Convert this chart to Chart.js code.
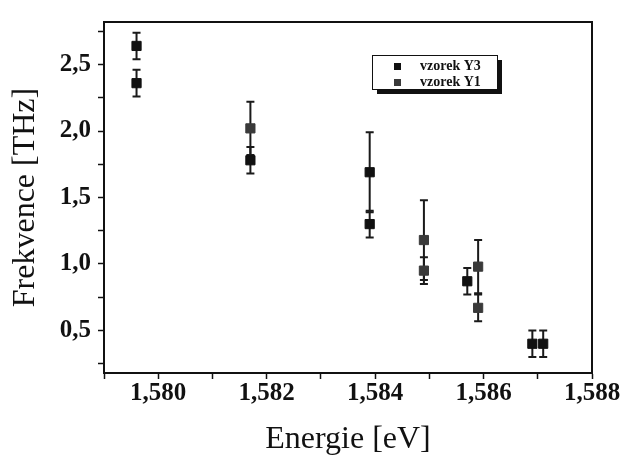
<!DOCTYPE html>
<html>
<head>
<meta charset="utf-8">
<script src="https://cdn.jsdelivr.net/npm/chart.js@4/dist/chart.umd.min.js"></script>
<style>
	html, body { margin: 0; padding: 0; background: #ffffff; }
	#freqChart { display: block; }
</style>
</head>
<body>
<canvas id="freqChart" width="631" height="463"></canvas>
<script>
// vzorek Y3
const energyY3 = [1.5796, 1.5796, 1.5817, 1.5839, 1.5839, 1.5857, 1.5869, 1.5871];
const freqY3 = [2.64, 2.36, 1.78, 1.69, 1.30, 0.87, 0.40, 0.40];
const errY3 = [0.10, 0.10, 0.10, 0.30, 0.10, 0.10, 0.10, 0.10];

// vzorek Y1
const energyY1 = [1.5817, 1.5849, 1.5849, 1.5859, 1.5859];
const freqY1 = [2.02, 1.18, 0.95, 0.98, 0.67];
const errY1 = [0.20, 0.30, 0.10, 0.20, 0.10];

const seriesLabels = ["vzorek Y3", "vzorek Y1"];

// axis ticks
const xMajorTicks = [1.580, 1.582, 1.584, 1.586, 1.588];
const xMinorTicks = [1.579, 1.581, 1.583, 1.585, 1.587];
const yMajorTicks = [0.5, 1.0, 1.5, 2.0, 2.5];
const yMinorTicks = [0.25, 0.75, 1.25, 1.75, 2.25, 2.75];

const serif = "'Liberation Serif', 'DejaVu Serif', serif";

function toPoints(xs, ys, errs) {
	return xs.map((x, i) => ({ x: x, y: ys[i], err: errs[i] }));
}

function buildTicks(major, minor) {
	return major.concat(minor).sort((a, b) => a - b).map(v => ({ value: v }));
}

/* error bars, drawn under the markers */
const errorBars = {
	id: "errorBars",
	beforeDatasetsDraw(chart) {
		const ctx = chart.ctx;
		const yScale = chart.scales.y;
		ctx.save();
		ctx.strokeStyle = "#1a1a1a";
		ctx.lineWidth = 2;
		chart.data.datasets.forEach((ds, di) => {
			const meta = chart.getDatasetMeta(di);
			ds.data.forEach((p, i) => {
				const el = meta.data[i];
				const top = yScale.getPixelForValue(p.y + p.err);
				const bot = yScale.getPixelForValue(p.y - p.err);
				ctx.beginPath();
				ctx.moveTo(el.x, top);
				ctx.lineTo(el.x, bot);
				ctx.moveTo(el.x - 4, top);
				ctx.lineTo(el.x + 4, top);
				ctx.moveTo(el.x - 4, bot);
				ctx.lineTo(el.x + 4, bot);
				ctx.stroke();
			});
		});
		ctx.restore();
	}
};

/* closed frame + boxed legend with shadow */
const frameAndLegend = {
	id: "frameAndLegend",
	afterDraw(chart) {
		const ctx = chart.ctx;
		const a = chart.chartArea;
		ctx.save();
		ctx.strokeStyle = "#111";
		ctx.lineWidth = 2;
		ctx.strokeRect(a.left, a.top, a.right - a.left, a.bottom - a.top);

		// legend box
		const bx = 372, by = 55, bw = 125, bh = 34;
		ctx.fillStyle = "#111";
		ctx.fillRect(bx + 5, by + 5, bw, bh);
		ctx.fillStyle = "#ffffff";
		ctx.fillRect(bx, by, bw, bh);
		ctx.lineWidth = 1;
		ctx.strokeRect(bx + 0.5, by + 0.5, bw, bh);

		ctx.font = "bold 14px " + serif;
		ctx.textBaseline = "middle";
		chart.data.datasets.forEach((ds, i) => {
			const ry = by + 11 + i * 16;
			ctx.fillStyle = ds.backgroundColor;
			ctx.fillRect(bx + 22, ry - 3, 7, 7);
			ctx.fillStyle = "#111";
			ctx.fillText(seriesLabels[i], bx + 48, ry);
		});
		ctx.restore();
	}
};

const ctx = document.getElementById("freqChart");

window.freqChart = new Chart(ctx, {
	type: "scatter",
	data: {
		datasets: [{
			label: seriesLabels[0],
			data: toPoints(energyY3, freqY3, errY3),
			backgroundColor: "#111111",
			borderColor: "#111111",
			pointStyle: "rect",
			pointRadius: 6.5,
			pointHoverRadius: 6.5
		}, {
			label: seriesLabels[1],
			data: toPoints(energyY1, freqY1, errY1),
			backgroundColor: "#3a3a3a",
			borderColor: "#3a3a3a",
			pointStyle: "rect",
			pointRadius: 6.5,
			pointHoverRadius: 6.5
		}]
	},
	options: {
		responsive: false,
		animation: false,
		layout: {
			padding: { top: 14, right: 39, left: 0, bottom: 0 }
		},
		plugins: {
			legend: { display: false },
			tooltip: { enabled: false }
		},
		scales: {
			x: {
				type: "linear",
				min: 1.579,
				max: 1.588,
				afterBuildTicks: scale => { scale.ticks = buildTicks(xMajorTicks, xMinorTicks); },
				afterFit: scale => { scale.height = 90; },
				border: { display: true, color: "#111", width: 2 },
				grid: {
					drawOnChartArea: false,
					drawTicks: true,
					tickLength: 6,
					tickColor: "#111",
					tickWidth: 1.5
				},
				ticks: {
					autoSkip: false,
					maxRotation: 0,
					padding: 0,
					color: "#111",
					font: { family: serif, size: 25, weight: "bold" },
					callback: v => xMajorTicks.some(t => Math.abs(t - v) < 1e-7) ?
						v.toFixed(3).replace(".", ",") : ""
				},
				title: {
					display: true,
					text: "Energie [eV]",
					color: "#111",
					font: { family: serif, size: 32 },
					padding: { top: 0, bottom: 4 }
				}
			},
			y: {
				type: "linear",
				min: 0.18,
				max: 2.82,
				afterBuildTicks: scale => { scale.ticks = buildTicks(yMajorTicks, yMinorTicks); },
				afterFit: scale => { scale.width = 104; },
				border: { display: true, color: "#111", width: 2 },
				grid: {
					drawOnChartArea: false,
					drawTicks: true,
					tickLength: 6,
					tickColor: "#111",
					tickWidth: 1.5
				},
				ticks: {
					autoSkip: false,
					padding: 7,
					color: "#111",
					font: { family: serif, size: 25, weight: "bold" },
					callback: v => yMajorTicks.some(t => Math.abs(t - v) < 1e-7) ?
						v.toFixed(1).replace(".", ",") : ""
				},
				title: {
					display: true,
					text: "Frekvence [THz]",
					color: "#111",
					font: { family: serif, size: 32 },
					padding: { top: 6, bottom: 0 }
				}
			}
		}
	},
	plugins: [errorBars, frameAndLegend]
});
</script>
</body>
</html>
